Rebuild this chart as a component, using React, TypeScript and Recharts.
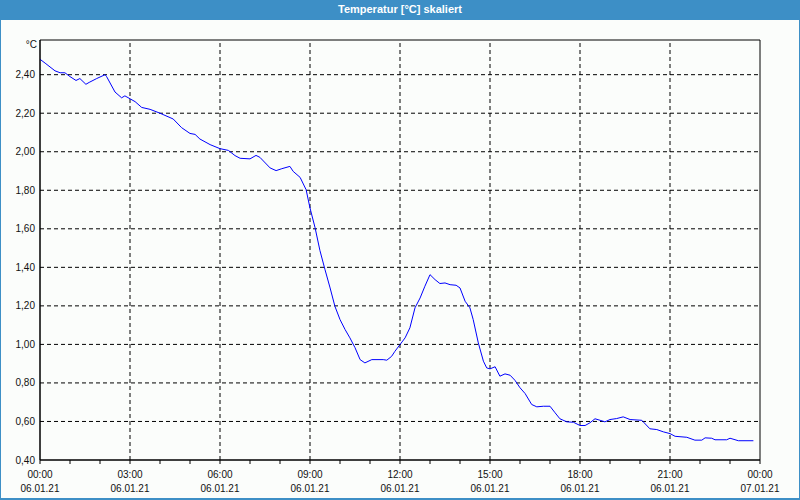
import React from 'react';
import { LineChart, Line, XAxis, YAxis, CartesianGrid, ReferenceLine, ReferenceArea } from 'recharts';

const hours = [0, 0.17, 0.5, 0.67, 0.83, 1.0, 1.2, 1.33, 1.53, 1.64, 1.89, 2.17, 2.22, 2.5, 2.72, 2.83, 3.0, 3.17, 3.39, 3.67, 4.0, 4.44, 4.72, 5.0, 5.17, 5.33, 5.67, 6.0, 6.28, 6.5, 6.67, 7.0, 7.2, 7.33, 7.67, 7.87, 8.06, 8.33, 8.44, 8.67, 8.87, 9.0, 9.17, 9.33, 9.5, 9.67, 9.83, 10.0, 10.17, 10.33, 10.5, 10.67, 10.83, 11.06, 11.44, 11.56, 11.72, 11.83, 12.0, 12.17, 12.33, 12.5, 12.67, 12.83, 13.0, 13.17, 13.33, 13.5, 13.67, 13.87, 14.0, 14.17, 14.33, 14.44, 14.61, 14.78, 14.89, 15.0, 15.17, 15.33, 15.5, 15.67, 15.83, 16.0, 16.17, 16.39, 16.56, 16.78, 17.0, 17.17, 17.33, 17.56, 17.78, 18.0, 18.17, 18.33, 18.5, 18.67, 18.83, 19.0, 19.22, 19.44, 19.67, 20.06, 20.33, 20.56, 20.78, 21.0, 21.17, 21.56, 21.83, 22.06, 22.17, 22.39, 22.5, 22.89, 23.0, 23.28, 23.78];

const temps = [2.48, 2.46, 2.42, 2.41, 2.41, 2.39, 2.37, 2.38, 2.35, 2.36, 2.38, 2.40, 2.39, 2.31, 2.28, 2.29, 2.275, 2.26, 2.23, 2.22, 2.20, 2.17, 2.125, 2.095, 2.09, 2.066, 2.037, 2.016, 2.007, 1.98, 1.966, 1.963, 1.981, 1.971, 1.916, 1.902, 1.912, 1.924, 1.898, 1.867, 1.803, 1.708, 1.605, 1.488, 1.388, 1.293, 1.198, 1.129, 1.077, 1.034, 0.983, 0.921, 0.904, 0.921, 0.921, 0.918, 0.938, 0.964, 0.999, 1.034, 1.086, 1.19, 1.241, 1.302, 1.362, 1.336, 1.316, 1.319, 1.31, 1.307, 1.293, 1.224, 1.19, 1.129, 1.008, 0.913, 0.878, 0.873, 0.884, 0.835, 0.847, 0.84, 0.814, 0.775, 0.745, 0.688, 0.676, 0.679, 0.679, 0.645, 0.614, 0.598, 0.596, 0.579, 0.579, 0.593, 0.614, 0.606, 0.598, 0.61, 0.615, 0.624, 0.61, 0.606, 0.562, 0.558, 0.546, 0.537, 0.523, 0.518, 0.503, 0.503, 0.515, 0.513, 0.505, 0.505, 0.513, 0.5, 0.5];

const xTicks = [0, 1, 2, 3, 4, 5, 6, 7, 8, 9, 10, 11, 12, 13, 14, 15, 16, 17, 18, 19, 20, 21, 22, 23, 24];
const majorHours = [3, 6, 9, 12, 15, 18, 21];
const timeLabels: Record<number, string> = { 0: '00:00', 3: '03:00', 6: '06:00', 9: '09:00', 12: '12:00', 15: '15:00', 18: '18:00', 21: '21:00', 24: '00:00' };
const dateLabels: Record<number, string> = { 0: '06.01.21', 3: '06.01.21', 6: '06.01.21', 9: '06.01.21', 12: '06.01.21', 15: '06.01.21', 18: '06.01.21', 21: '06.01.21', 24: '07.01.21' };
const yTicks = [0.4, 0.6, 0.8, 1.0, 1.2, 1.4, 1.6, 1.8, 2.0, 2.2, 2.4];
const yGrid = [0.6, 0.8, 1.0, 1.2, 1.4, 1.6, 1.8, 2.0, 2.2, 2.4];
const yMin = 0.4;
const yMax = 2.58;

const data = hours.map((h, i) => ({ h, t: temps[i] }));

const FONT = '"Liberation Sans", Arial, sans-serif';

const XTick = (props: any) => {
  const { x, y, payload } = props;
  const v = payload.value;
  if (timeLabels[v] === undefined) return null;
  return (
    <g>
      <text x={x} y={y} dy={14} textAnchor="middle" fontSize={10} fontFamily={FONT} fill="#111">
        {timeLabels[v]}
      </text>
      <text x={x} y={y} dy={28} textAnchor="middle" fontSize={10} fontFamily={FONT} fill="#111">
        {dateLabels[v]}
      </text>
    </g>
  );
};

export default function App() {
  return (
    <div style={{ position: 'absolute', left: 0, top: 0, width: 800, height: 500, background: '#3d8fc6', fontFamily: FONT }}>
      <div style={{ position: 'absolute', left: 1, top: 20, width: 798, height: 478, background: '#fbfdfb' }} />
      <div style={{ position: 'absolute', left: 0, top: 0, width: 800, height: 20, lineHeight: '19px', textAlign: 'center', color: '#fff', fontWeight: 'bold', fontSize: 11, fontFamily: FONT }}>
        Temperatur [°C] skaliert
      </div>
      <div style={{ position: 'absolute', left: 0, width: 37, top: 40, textAlign: 'right', fontSize: 10, lineHeight: '10px', color: '#111', fontFamily: FONT }}>
        °C
      </div>
      <div style={{ position: 'absolute', left: 0, top: 0 }}>
        <LineChart width={800} height={500} data={data} margin={{ top: 40, right: 40, bottom: 0, left: 0 }}>
          <CartesianGrid vertical={false} stroke="#000" strokeDasharray="4 3" horizontalValues={yGrid} />
          {majorHours.map((h) => (
            <ReferenceLine key={h} x={h} stroke="#000" strokeDasharray="4 3" />
          ))}
          <XAxis
            dataKey="h"
            type="number"
            domain={[0, 24]}
            ticks={xTicks}
            interval={0}
            allowDataOverflow
            height={40}
            tickSize={4}
            tickMargin={0}
            stroke="#000"
            tickLine={{ stroke: '#000' }}
            tick={<XTick />}
          />
          <YAxis
            type="number"
            domain={[yMin, yMax]}
            ticks={yTicks}
            allowDataOverflow
            width={40}
            tickLine={false}
            tickSize={4}
            tickMargin={1}
            stroke="#000"
            tick={{ fontSize: 10, fill: '#111', fontFamily: FONT }}
            tickFormatter={(v: number) => v.toFixed(2).replace('.', ',')}
          />
          <ReferenceArea x1={0} x2={24} y1={yMin} y2={yMax} fill="none" fillOpacity={0} stroke="#000" strokeWidth={1} />
          <Line type="linear" dataKey="t" stroke="#0000ff" strokeWidth={1} dot={false} isAnimationActive={false} />
        </LineChart>
      </div>
    </div>
  );
}
